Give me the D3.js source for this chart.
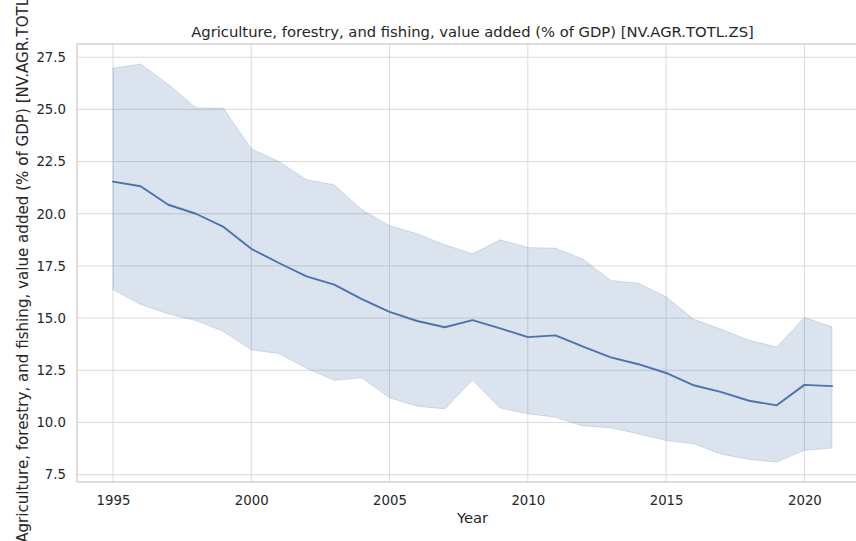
<!DOCTYPE html>
<html>
<head>
<meta charset="utf-8">
<script src="https://cdn.jsdelivr.net/npm/d3@7"></script>
<style>
html, body { margin: 0; padding: 0; background: #fff; }
svg { display: block; }
text { font-family: "DejaVu Sans", sans-serif; fill: #262626; }
</style>
</head>
<body>
<svg id="chart" width="856" height="541"></svg>
<script>
const years = [1995,1996,1997,1998,1999,2000,2001,2002,2003,2004,2005,2006,2007,2008,2009,2010,2011,2012,2013,2014,2015,2016,2017,2018,2019,2020,2021];
const meanValues = [21.54,21.32,20.43,20.0,19.37,18.32,17.64,17.0,16.6,15.91,15.3,14.86,14.56,14.9,14.51,14.09,14.17,13.63,13.12,12.79,12.37,11.78,11.45,11.04,10.82,11.8,11.74];
const upperValues = [26.97,27.18,26.2,25.08,25.05,23.11,22.5,21.63,21.39,20.19,19.43,19.04,18.51,18.08,18.75,18.38,18.35,17.82,16.8,16.67,16.02,14.94,14.46,13.94,13.62,15.03,14.58];
const lowerValues = [16.37,15.65,15.2,14.88,14.36,13.48,13.3,12.6,12.02,12.14,11.18,10.78,10.65,12.03,10.69,10.42,10.25,9.83,9.74,9.45,9.13,8.98,8.48,8.23,8.1,8.67,8.77];
const yTicks = [7.5,10.0,12.5,15.0,17.5,20.0,22.5,25.0,27.5];
const xTicks = [1995,2000,2005,2010,2015,2020];
const titleText = "Agriculture, forestry, and fishing, value added (% of GDP) [NV.AGR.TOTL.ZS]";
const yLabelText = "Agriculture, forestry, and fishing, value added (% of GDP) [NV.AGR.TOTL.ZS]";
const xLabelText = "Year";

const svg = d3.select("#chart");
const mLeft = 77, mRight = 868, mTop = 44, mBottom = 482;

const xPad = (d3.max(years) - d3.min(years)) * 0.05;
const x = d3.scaleLinear().domain([d3.min(years) - xPad, d3.max(years) + xPad]).range([mLeft, mRight]);
const yMin = d3.min(lowerValues), yMax = d3.max(upperValues);
const yPad = (yMax - yMin) * 0.05;
const y = d3.scaleLinear().domain([yMin - yPad, yMax + yPad]).range([mBottom, mTop]);

const data = years.map((yr, i) => ({yr, m: meanValues[i], lo: lowerValues[i], hi: upperValues[i]}));

// grid
const g = svg.append("g");
g.selectAll(".gx").data(xTicks).join("line")
  .attr("x1", d => x(d)).attr("x2", d => x(d)).attr("y1", mTop).attr("y2", mBottom)
  .attr("stroke", "#dadada").attr("stroke-width", 1);
g.selectAll(".gy").data(yTicks).join("line")
  .attr("x1", mLeft).attr("x2", mRight).attr("y1", d => y(d)).attr("y2", d => y(d))
  .attr("stroke", "#dadada").attr("stroke-width", 1);

// band
svg.append("path").datum(data)
  .attr("d", d3.area().x(d => x(d.yr)).y0(d => y(d.lo)).y1(d => y(d.hi)))
  .attr("fill", "#4c72b0").attr("fill-opacity", 0.2)
  .attr("stroke", "#4c72b0").attr("stroke-opacity", 0.2).attr("stroke-width", 1);

// line
svg.append("path").datum(data)
  .attr("d", d3.line().x(d => x(d.yr)).y(d => y(d.m)))
  .attr("fill", "none").attr("stroke", "#4c72b0").attr("stroke-width", 1.9)
  .attr("stroke-linejoin", "round").attr("stroke-linecap", "round");

// spines
svg.append("rect").attr("x", mLeft).attr("y", mTop).attr("width", mRight - mLeft).attr("height", mBottom - mTop)
  .attr("fill", "none").attr("stroke", "#cccccc").attr("stroke-width", 1.3);

// axes via d3
const xAxis = svg.append("g").attr("transform", `translate(0,${mBottom})`)
  .call(d3.axisBottom(x).tickValues(xTicks).tickFormat(d3.format("d")).tickSize(0).tickPadding(14));
const yAxis = svg.append("g").attr("transform", `translate(${mLeft},0)`)
  .call(d3.axisLeft(y).tickValues(yTicks).tickFormat(d3.format(".1f")).tickSize(0).tickPadding(11));
[xAxis, yAxis].forEach(a => {
  a.select(".domain").remove();
  a.selectAll("text").attr("font-family", "DejaVu Sans").attr("font-size", 13.3).attr("fill", "#262626");
});

// title
svg.append("text").attr("x", (mLeft + mRight) / 2).attr("y", 37)
  .attr("text-anchor", "middle").attr("font-size", 14.75).text(titleText);
// x label
svg.append("text").attr("x", (mLeft + mRight) / 2).attr("y", 523)
  .attr("text-anchor", "middle").attr("font-size", 14.75).text(xLabelText);
// y label
svg.append("text").attr("transform", `translate(27.5,${(mTop + mBottom) / 2 - 8}) rotate(-90)`)
  .attr("text-anchor", "middle").attr("font-size", 15.1).text(yLabelText);
</script>
</body>
</html>
